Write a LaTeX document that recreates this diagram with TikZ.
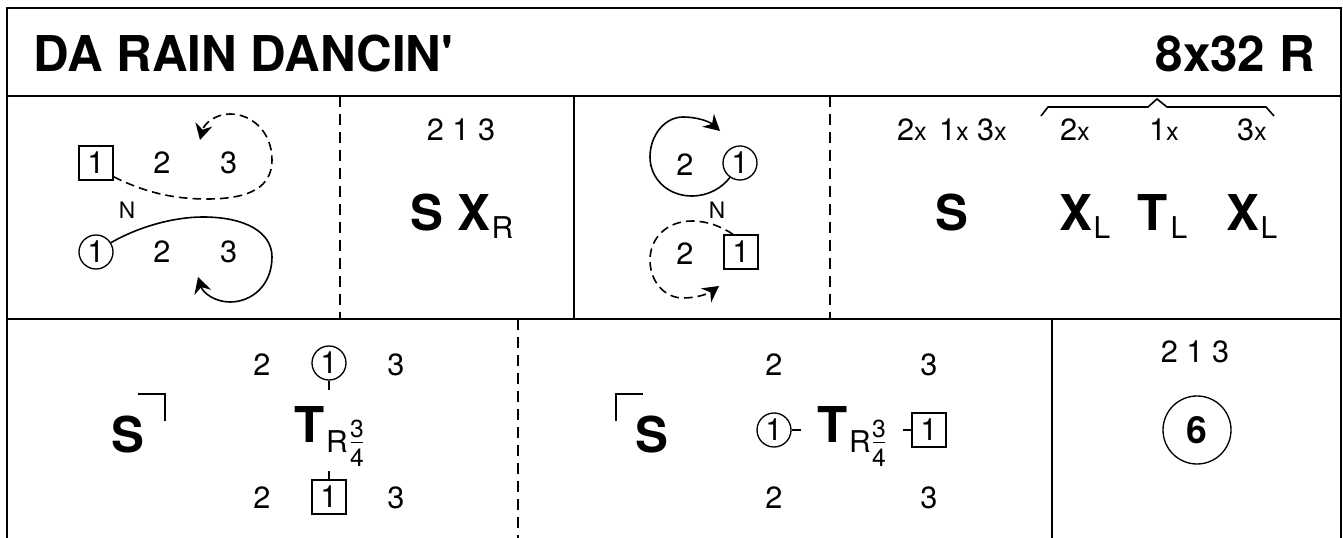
\documentclass[tikz,border=0pt]{standalone}
\usepackage{fontspec}
\setmainfont{TeX Gyre Heros}[Ligatures=TeXOff]
\usetikzlibrary{arrows.meta}
\usetikzlibrary{calc}
\newcommand{\sizenum}{\fontsize{23}{23}\selectfont}
\newcommand{\sizebig}{\bfseries\fontsize{37}{37}\selectfont}
\newcommand{\sizesub}{\fontsize{22.5}{22.5}\selectfont}
\newcommand{\sizefrac}{\fontsize{18.5}{18.5}\selectfont}
\newcommand{\sizex}{\fontsize{19}{19}\selectfont}
\newcommand{\crossed}[1]{#1{\sizex x}}
\begin{document}
\begin{tikzpicture}[x=0.75pt,y=-0.75pt]
    \tikzset{
      num/.style={inner sep=0pt, font=\sizenum},
      big/.style={inner sep=0pt, font=\sizebig},
      sub/.style={inner sep=0pt, font=\sizesub},
      frc/.style={inner sep=0pt, font=\sizefrac},
      tag/.style={inner sep=0pt, font=\fontsize{17}{17}\selectfont},
      man/.style={draw, rectangle, line width=1pt, minimum size=25.5pt, inner sep=0pt, font=\sizenum},
      lady/.style={draw, circle, line width=1pt, minimum size=25.5pt, inner sep=0pt, font=\sizenum},
      rule/.style={line width=1.5pt},
      split/.style={line width=1.2pt, dash pattern=on 8pt off 5.5pt},
      line/.style={draw, line width=1.2pt, -{Stealth[length=12pt, width=13pt, inset=4pt]}},
      dash line/.style={line, dash pattern=on 6.5pt off 3.8pt},
      thin line/.style={draw, line width=1.2pt}
    }
    \useasboundingbox (0,0) rectangle (1343,538);

    % frame and bars
    \draw [rule] (7,540) -- (7,8) -- (1341,8) -- (1341,540);
    \draw [rule] (7,96) -- (1341,96);
    \draw [rule] (7,319) -- (1341,319);
    \draw [rule] (574,96) -- (574,319);
    \draw [rule] (1052,319) -- (1052,540);
    \draw [split] (340,96) -- (340,319);
    \draw [split] (830,96) -- (830,319);
    \draw [split] (518,319) -- (518,540);

    % title
    \node [big, anchor=west] (title) at (33,54) {DA RAIN DANCIN'};
    \node [big, anchor=east] (bars) at (1315,54) {8x32 R};

    % first panel
    \node [man] (m1) at (96,163) {1};
    \node [num, right of=m1, node distance=49.5pt] (m2) {2};
    \node [num, right of=m2, node distance=50pt] (m3) {3};
    \node [lady] (l1) at (96,252) {1};
    \node [num, right of=l1, node distance=49.5pt] (l2) {2};
    \node [num, right of=l2, node distance=50pt] (l3) {3};
    \node [tag] (nleft) at (127,210) {N};
    \coordinate (mend) at (200,140);
    \coordinate (lend) at (198,277);
    \path [dash line] (m1.-38) .. controls (150,195) and (180,199) .. (207,199)
      .. controls (250,199) and (272,187) .. (272,160)
      .. controls (272,132) and (252,114) .. (230,114)
      .. controls (215,114) and (204,124) .. (mend);
    \path [line] (l1.32) .. controls (140,226) and (175,217) .. (203,217)
      .. controls (245,217) and (272,232) .. (272,257)
      .. controls (272,285) and (252,302) .. (230,302)
      .. controls (215,302) and (203,293) .. (lend);

    \node [num] (order) at (461,130) {2 1 3};
    \node [big] (sa) at (427,213) {S};
    \node [big] (xa) at (473.5,213) {X};
    \node [sub] (xasub) at (502.5,228) {R};

    % second panel
    \node [lady] (l1b) at (740,163) {1};
    \node [num] (l2b) at (685,165) {2};
    \node [man] (m1b) at (741,252) {1};
    \node [num] (m2b) at (685,254) {2};
    \node [tag] (nright) at (717,210) {N};
    \coordinate (lbend) at (720,131);
    \coordinate (mbend) at (719,286);
    \path [line] (l1b.-125) .. controls (722,188) and (708,196) .. (692,196)
      .. controls (667,196) and (650,178) .. (650,157)
      .. controls (650,135) and (665,117) .. (683,117)
      .. controls (698,117) and (710,122) .. (lbend);
    \path [dash line] (m1b.north) ++(-8,0) .. controls (722,227) and (708,221) .. (692,221)
      .. controls (667,221) and (650,238) .. (650,260)
      .. controls (650,282) and (665,298) .. (683,298)
      .. controls (696,298) and (708,294) .. (mbend);

    \node [num] (pa) at (912,130) {\crossed{2}};
    \node [num] (pb) at (954,130) {\crossed{1}};
    \node [num] (pc) at (992,130) {\crossed{3}};
    \node [num] (twox) at (1075,130) {\crossed{2}};
    \node [num] (onex) at (1164,130) {\crossed{1}};
    \node [num] (threex) at (1252,130) {\crossed{3}};
    \draw [thin line] (1041,116) -- (1048,107) -- (1148,107) -- (1157,99) -- (1167,107) -- (1266,107) -- (1274,116);
    \node [big] (sb) at (952,213) {S};
    \node [big] (xb) at (1076,213) {X};
    \node [sub] (xbsub) at (1102,228) {L};
    \node [big] (tb) at (1153,213) {T};
    \node [sub] (tbsub) at (1179,228) {L};
    \node [big] (xc) at (1243,213) {X};
    \node [sub] (xcsub) at (1269,228) {L};

    % third panel
    \node [big] (sc) at (128,435) {S};
    \draw [thin line] (138,394) -- (165,394) -- (165,421);
    \node [num] (t2) at (262,365) {2};
    \node [lady] (t1) at (329,363) {1};
    \node [num] (t3) at (396,365) {3};
    \coordinate (ttop) at (329,390);
    \draw [thin line] (t1.south) -- (ttop);
    \node [big] (tc) at (310,425) {T};
    \node [sub] (tcsub) at (337,442) {R};
    \node [frc] (tcn) at (357,429) {3};
    \node [frc] (tcd) at (357,458) {4};
    \draw [line width=0.8pt] ($(tcn.south)+(-6,4)$) -- ($(tcn.south)+(6,4)$);
    \node [num] (u2) at (262,498) {2};
    \node [man] (u1) at (329,497) {1};
    \node [num] (u3) at (396,498) {3};
    \coordinate (ubot) at (329,471);
    \draw [thin line] (ubot) -- (u1.north);

    % fourth panel
    \draw [thin line] (616,421) -- (616,394) -- (643,394);
    \node [big] (sd) at (652,435) {S};
    \node [num] (v2) at (774,365) {2};
    \node [num] (v3) at (929,365) {3};
    \node [lady] (v1) at (774,430) {1};
    \coordinate (vtick) at (801,430);
    \draw [thin line] (v1.east) -- (vtick);
    \node [big] (td) at (833,425) {T};
    \node [sub] (tdsub) at (860,442) {R};
    \node [frc] (tdn) at (879,429) {3};
    \node [frc] (tdd) at (879,458) {4};
    \draw [line width=0.8pt] ($(tdn.south)+(-6,4)$) -- ($(tdn.south)+(6,4)$);
    \node [man] (w1) at (929,430) {1};
    \coordinate (wtick) at (903,430);
    \draw [thin line] (wtick) -- (w1.west);
    \node [num] (x2) at (774,498) {2};
    \node [num] (x3) at (929,498) {3};

    % last panel
    \node [num] (orderb) at (1195,352) {2 1 3};
    \node [draw, circle, line width=1pt, minimum size=51pt, inner sep=0pt, font=\bfseries\fontsize{28}{28}\selectfont] (six) at (1197,430) {6};
\end{tikzpicture}
\end{document}
